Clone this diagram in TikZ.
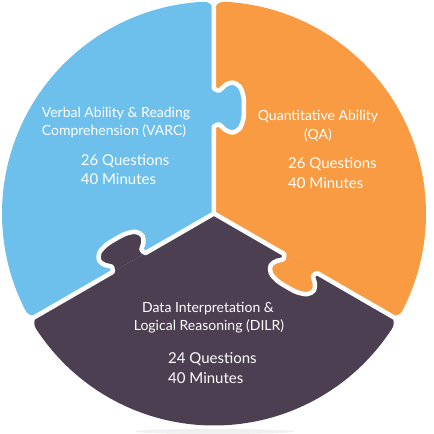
\documentclass[tikz,border=0pt]{standalone}
\usepackage{fontspec}
\setmainfont{Lato}
\definecolor{cblue}{HTML}{6DC0EB}
\definecolor{corange}{HTML}{F99B43}
\definecolor{cpurple}{HTML}{4C3F52}
\begin{document}
\begin{tikzpicture}[x=1pt,y=1pt,
  lbl/.style={text=white, font=\fontsize{14}{17}\selectfont, inner sep=0pt},
  num/.style={text=white, font=\fontsize{15}{18}\selectfont, inner sep=0pt, anchor=base west},
  gap/.style={white, line width=4.5pt, line cap=round, line join=round}]
\useasboundingbox (-214,-220.5) rectangle (220,213.5);
\fill[black!6] (1,-218) ellipse [x radius=80, y radius=2.5];
\def\R{212}\def\r{10}
\pgfmathsetmacro\dd{asin(\r/(\R-\r))}
\pgfmathsetmacro\tl{(\R-\r)*cos(\dd)}
% sectors
\foreach \a/\col in {90/cblue,210/cpurple,-30/corange}{
  \fill[\col] (0,0) -- (\a:\tl)
    arc[start angle=\a-90, end angle=\a+\dd, radius=\r]
    arc[start angle=\a+\dd, end angle=\a+120-\dd, radius=\R]
    arc[start angle=\a+120-\dd, end angle=\a+210, radius=\r] -- cycle;
}
% tabs
\foreach \a/\m/\s/\col in {90/106/1.07/cblue, 210/98/0.97/cpurple, -30/100/0.97/corange}{
  \begin{scope}[rotate=\a]
    \fill[\col] plot[smooth,tension=0.55] coordinates {({\m-19},0) ({\m-17},{-5*\s}) ({\m-22},{-10*\s}) ({\m-25},{-17*\s}) ({\m-21},{-24*\s}) ({\m-11},{-27.5*\s}) ({\m},{-28*\s}) ({\m+11},{-27.5*\s}) ({\m+21},{-24*\s}) ({\m+25},{-17*\s}) ({\m+22},{-10*\s}) ({\m+17},{-5*\s}) ({\m+19},0)} -- cycle;
  \end{scope}
}
% white gaps
\foreach \a/\m/\s in {90/106/1.07, 210/98/0.97, -30/100/0.97}{
  \begin{scope}[rotate=\a]
    \draw[gap] (0,0) -- ({\m-19},0) plot[smooth,tension=0.55] coordinates {({\m-19},0) ({\m-17},{-5*\s}) ({\m-22},{-10*\s}) ({\m-25},{-17*\s}) ({\m-21},{-24*\s}) ({\m-11},{-27.5*\s}) ({\m},{-28*\s}) ({\m+11},{-27.5*\s}) ({\m+21},{-24*\s}) ({\m+25},{-17*\s}) ({\m+22},{-10*\s}) ({\m+17},{-5*\s}) ({\m+19},0)} -- (\R+6,0);
  \end{scope}
}
% texts
\node[lbl, anchor=base west] (v1) at (-172.3,95.5) {Verbal Ability \& Reading};
\node[lbl, anchor=base west] (v2) at (-172.3,77.5) {Comprehension (VARC)};
\node[num] (v3) at (-133.3,47.5) {26 Questions};
\node[num] (v4) at (-133.3,28.5) {40 Minutes};
\node[lbl, anchor=base] (q1) at (104,92.5) {Quantitative Ability};
\node[lbl, anchor=base] (q2) at (104,73.5) {(QA)};
\node[num] (q3) at (74,44.5) {26 Questions};
\node[num] (q4) at (74,24.5) {40 Minutes};
\node[lbl, anchor=base] (d1) at (-6,-98.5) {Data Interpretation \&};
\node[lbl, anchor=base] (d2) at (-5,-116.5) {Logical Reasoning (DILR)};
\node[num] (d3) at (-46,-149.5) {24 Questions};
\node[num] (d4) at (-46,-169.5) {40 Minutes};
\end{tikzpicture}
\end{document}
